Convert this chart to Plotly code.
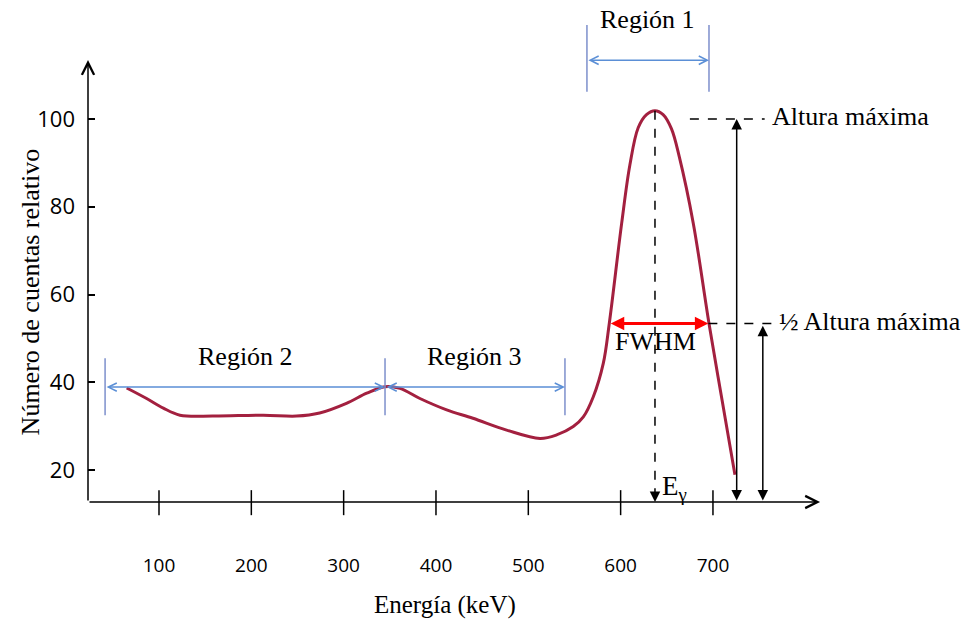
import plotly.graph_objects as go

# ---------------- data ----------------
energy = [65.0, 86.6, 104.7, 122.7, 158.8, 213.0, 249.0, 274.0, 303.0, 325.0, 344.7,
          361.0, 382.6, 411.6, 440.0, 476.5, 512.7, 530.7, 548.7, 559.6, 570.4, 581.2,
          587.7, 601.1, 610.0, 619.0, 628.0, 637.2, 646.0, 655.0, 663.5, 678.7, 695.7,
          709.8, 723.8]
counts = [38.7, 36.3, 34.1, 32.5, 32.3, 32.5, 32.3, 33.0, 35.2, 37.5, 39.0,
          38.6, 36.3, 33.7, 31.8, 29.1, 27.2, 28.0, 29.9, 32.1, 36.7, 44.3,
          53.4, 76.2, 89.5, 98.0, 101.0, 101.9, 101.0, 97.8, 91.4, 76.2, 53.4,
          36.0, 18.9]

x_ticks = [100, 200, 300, 400, 500, 600, 700]
y_ticks = [20, 40, 60, 80, 100]

peak_energy = 637.2
peak_counts = 101.9
max_height = 100
half_height = 53.4
fwhm_left = 587.7
fwhm_right = 695.0

region_labels = ["Región 1", "Región 2", "Región 3"]
region1_edges = [563.5, 695.7]
region23_edges = [41.6, 344.8, 539.7]

# ---------------- geometry (axis ranges) ----------------
X_MIN, X_MAX = 23.1, 818.1
Y_MIN, Y_MAX = 4.05, 124.84
AXIS_Y = 12.71           # where the drawn x-axis sits
X_ARROW_END = 816
Y_ARROW_END = 113.45

SERIF = "Liberation Serif, Times New Roman, serif"
SANS = "Open Sans, Noto Sans, sans-serif"
BLUE = "#5b8fd6"
BAR = "#7d8fcc"
CURVE = "#a3203f"

fig = go.Figure()

fig.add_trace(go.Scatter(
    x=energy, y=counts, mode="lines",
    line=dict(color=CURVE, width=3, shape="spline", smoothing=1.0),
    hoverinfo="skip", showlegend=False,
))

shapes = []
annotations = []

# x-axis tick marks crossing the axis
for t in x_ticks:
    shapes.append(dict(type="line", xref="x", yref="y", x0=t, x1=t,
                       y0=AXIS_Y - 3.0, y1=AXIS_Y + 2.7,
                       line=dict(color="black", width=1.5)))

# axes drawn as arrows with open heads
annotations.append(dict(x=X_ARROW_END, y=AXIS_Y, ax=X_MIN, ay=AXIS_Y,
                        xref="x", yref="y", axref="x", ayref="y", text="",
                        showarrow=True, arrowhead=5, arrowsize=1.6,
                        arrowwidth=1.5, arrowcolor="black", standoff=0))
annotations.append(dict(x=X_MIN, y=Y_ARROW_END, ax=X_MIN, ay=AXIS_Y,
                        xref="x", yref="y", axref="x", ayref="y", text="",
                        showarrow=True, arrowhead=5, arrowsize=1.6,
                        arrowwidth=1.5, arrowcolor="black", standoff=0))

# region brackets
r1_y, r1_lo, r1_hi = 113.4, 106.2, 121.4
for e in region1_edges:
    shapes.append(dict(type="line", xref="x", yref="y", x0=e, x1=e, y0=r1_lo, y1=r1_hi,
                       line=dict(color=BAR, width=1.5)))
annotations.append(dict(x=region1_edges[1], y=r1_y, ax=region1_edges[0], ay=r1_y,
                        xref="x", yref="y", axref="x", ayref="y", text="",
                        showarrow=True, arrowhead=5, arrowside="end+start",
                        arrowsize=1.1, arrowwidth=1.5, arrowcolor=BLUE, standoff=0,
                        startstandoff=0))
annotations.append(dict(x=sum(region1_edges) / 2, y=122.6, text=region_labels[0],
                        xref="x", yref="y", showarrow=False,
                        font=dict(family=SERIF, size=26, color="black")))

r23_y, r23_lo, r23_hi = 38.9, 32.5, 45.5
for e in region23_edges:
    shapes.append(dict(type="line", xref="x", yref="y", x0=e, x1=e, y0=r23_lo, y1=r23_hi,
                       line=dict(color=BAR, width=1.5)))
for i in range(2):
    a, b = region23_edges[i], region23_edges[i + 1]
    annotations.append(dict(x=b, y=r23_y, ax=a, ay=r23_y,
                            xref="x", yref="y", axref="x", ayref="y", text="",
                            showarrow=True, arrowhead=5, arrowside="end+start",
                            arrowsize=1.1, arrowwidth=1.5, arrowcolor=BLUE, standoff=0,
                            startstandoff=0))
    annotations.append(dict(x=(a + b) / 2, y=45.8,
                            text=region_labels[i + 1], xref="x", yref="y",
                            showarrow=False,
                            font=dict(family=SERIF, size=26, color="black")))

# dashed vertical line at the peak energy
shapes.append(dict(type="line", xref="x", yref="y", x0=peak_energy, x1=peak_energy,
                   y0=peak_counts, y1=AXIS_Y + 3,
                   line=dict(color="black", width=1.5, dash="dash")))
annotations.append(dict(x=peak_energy, y=AXIS_Y, ax=peak_energy, ay=AXIS_Y + 3.5,
                        xref="x", yref="y", axref="x", ayref="y", text="",
                        showarrow=True, arrowhead=2, arrowsize=1.4,
                        arrowwidth=1.5, arrowcolor="black", standoff=0))
annotations.append(dict(x=peak_energy + 5, y=AXIS_Y + 3.3, text="E<sub>γ</sub>",
                        xref="x", yref="y", showarrow=False, xanchor="left",
                        font=dict(family=SERIF, size=27, color="black")))

# FWHM red double arrow
annotations.append(dict(x=fwhm_right, y=half_height, ax=fwhm_left, ay=half_height,
                        xref="x", yref="y", axref="x", ayref="y", text="",
                        showarrow=True, arrowhead=2, arrowside="end+start",
                        arrowsize=0.9, arrowwidth=3, arrowcolor="#ff0000",
                        standoff=0, startstandoff=0))
annotations.append(dict(x=peak_energy + 1, y=49.4, text="FWHM", xref="x", yref="y",
                        showarrow=False,
                        font=dict(family=SERIF, size=26, color="black")))

# max height and half height markers
max_arrow_x = 725.7
half_arrow_x = 754.0
shapes.append(dict(type="line", xref="x", yref="y", x0=675, x1=756,
                   y0=max_height, y1=max_height,
                   line=dict(color="black", width=1.5, dash="dash")))
shapes.append(dict(type="line", xref="x", yref="y", x0=fwhm_right, x1=772,
                   y0=half_height, y1=half_height,
                   line=dict(color="black", width=1.5, dash="dash")))
annotations.append(dict(x=max_arrow_x, y=max_height, ax=max_arrow_x, ay=AXIS_Y,
                        xref="x", yref="y", axref="x", ayref="y", text="",
                        showarrow=True, arrowhead=2, arrowside="end+start",
                        arrowsize=1.4, arrowwidth=1.5, arrowcolor="black",
                        standoff=0, startstandoff=0))
annotations.append(dict(x=half_arrow_x, y=half_height - 0.5, ax=half_arrow_x, ay=AXIS_Y,
                        xref="x", yref="y", axref="x", ayref="y", text="",
                        showarrow=True, arrowhead=2, arrowside="end+start",
                        arrowsize=1.4, arrowwidth=1.5, arrowcolor="black",
                        standoff=0, startstandoff=0))
annotations.append(dict(x=762, y=max_height + 0.5, text="Altura máxima", xref="x", yref="y",
                        showarrow=False, xanchor="left",
                        font=dict(family=SERIF, size=26, color="black")))
annotations.append(dict(x=769, y=half_height + 0.5, text="½ Altura máxima", xref="x", yref="y",
                        showarrow=False, xanchor="left",
                        font=dict(family=SERIF, size=26, color="black")))

# axis titles
annotations.append(dict(x=409.8, y=-0.153, xref="x", yref="paper",
                        text="Energía (keV)", showarrow=False,
                        font=dict(family=SERIF, size=25, color="black")))
annotations.append(dict(x=-0.1008, y=60.6, xref="paper", yref="y",
                        text="Número de cuentas relativo", showarrow=False,
                        textangle=-90,
                        font=dict(family=SERIF, size=26, color="black")))

fig.update_layout(
    width=971, height=625, autosize=False,
    margin=dict(l=88, r=149, t=10, b=85, pad=0),
    plot_bgcolor="white", paper_bgcolor="white",
    showlegend=False,
    shapes=shapes, annotations=annotations,
    xaxis=dict(range=[X_MIN, X_MAX], tickvals=x_ticks, ticks="", showgrid=False,
               zeroline=False, showline=False, ticklabelstandoff=12,
               tickfont=dict(family=SANS, size=19, color="black")),
    yaxis=dict(range=[Y_MIN, Y_MAX], tickvals=y_ticks, ticks="inside", ticklen=7,
               tickwidth=1.5, tickcolor="black", showgrid=False, zeroline=False,
               showline=False, ticklabelstandoff=12,
               tickfont=dict(family=SANS, size=22, color="black")),
)

fig.write_html("out.html")
